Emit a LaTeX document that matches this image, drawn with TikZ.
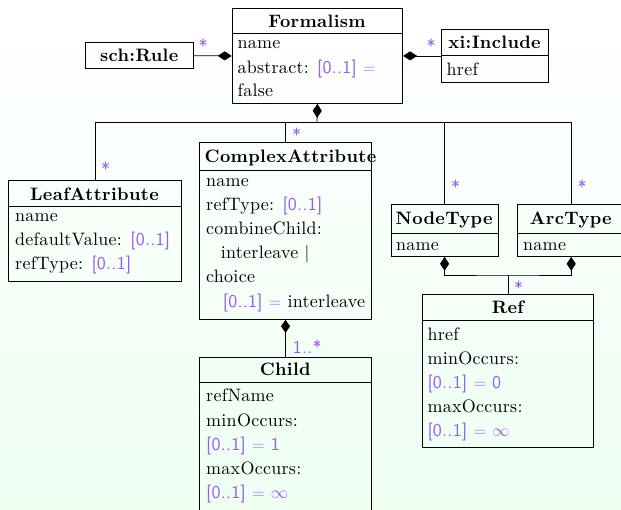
\documentclass[tikz,border=0pt]{standalone}
\usepackage{fontspec}
\setmainfont{lmroman10-regular}[Extension=.otf, LetterSpace=1.5, BoldFont=lmroman10-bold, BoldFeatures={LetterSpace=2}, ItalicFont=lmroman10-italic]
\setsansfont{lmsans10-regular}[Extension=.otf, LetterSpace=1.5, BoldFont=lmsans10-bold]
\usetikzlibrary{arrows.meta}
\definecolor{umlpurple}{RGB}{150,95,240}
\definecolor{bgmint}{RGB}{238,255,242}
\newcommand\pu[1]{\textcolor{umlpurple}{\sffamily #1}}
\tikzset{
  cls/.style={draw=black, line width=0.8pt, rectangle, inner sep=0pt, anchor=north west},
  sep/.style={draw=black, line width=0.8pt},
  conn/.style={draw=black, line width=0.8pt},
  comp/.style={conn, {Diamond[length=14pt,width=9pt]}-},
  title/.style={anchor=base, inner sep=0pt, font=\fontsize{18}{24}\selectfont\bfseries},
  row/.style={anchor=base west, inner sep=0pt, font=\fontsize{18}{24}\selectfont},
  mult/.style={anchor=base west, inner sep=0pt, text=umlpurple, font=\fontsize{18}{24}\selectfont\sffamily},
}
\begin{document}
\begin{tikzpicture}[x=1pt, y=-1pt]
\shade[top color=white, bottom color=bgmint] (0,0) rectangle (621,509);
\useasboundingbox (0,0) rectangle (621,509);

% Boxes
\node[cls, minimum width=170.6, minimum height=95] (formalism) at (231.7,8) {};
\node[cls, minimum width=108.3, minimum height=26] (schrule) at (85,42.3) {};
\node[cls, minimum width=107.6, minimum height=52.4] (xiinc) at (440.7,29.3) {};
\node[cls, minimum width=172.4, minimum height=100.7] (leaf) at (8.3,180) {};
\node[cls, minimum width=171.7, minimum height=176.7] (complex) at (199.3,142.3) {};
\node[cls, minimum width=107, minimum height=51.7] (nodetype) at (390.7,204.3) {};
\node[cls, minimum width=107, minimum height=51.7] (arctype) at (517.3,204.3) {};
\node[cls, minimum width=171, minimum height=153] (ref) at (422.3,294.3) {};
\node[cls, minimum width=171.7, minimum height=170] (child) at (199.3,356.7) {};

% Separators
\draw[sep] ([yshift=-25pt]formalism.north west) -- ([yshift=-25pt]formalism.north east);
\draw[sep] ([yshift=-26pt]xiinc.north west) -- ([yshift=-26pt]xiinc.north east);
\draw[sep] ([yshift=-26.5pt]leaf.north west) -- ([yshift=-26.5pt]leaf.north east);
\draw[sep] ([yshift=-28.5pt]complex.north west) -- ([yshift=-28.5pt]complex.north east);
\draw[sep] ([yshift=-29.5pt]nodetype.north west) -- ([yshift=-29.5pt]nodetype.north east);
\draw[sep] ([yshift=-29.5pt]arctype.north west) -- ([yshift=-29.5pt]arctype.north east);
\draw[sep] ([yshift=-26.5pt]ref.north west) -- ([yshift=-26.5pt]ref.north east);
\draw[sep] ([yshift=-26pt]child.north west) -- ([yshift=-26pt]child.north east);

% Titles
\node[title] (tformalism) at (317,27) {Formalism};
\node[title] (tschrule) at (139.2,61.7) {sch:Rule};
\node[title] (txiinc) at (494.5,48.3) {xi:Include};
\node[title] (tleaf) at (94.5,200) {LeafAttribute};
\node[title] (tcomplex) at (290.5,162.7) {ComplexAttribute};
\node[title] (tnodetype) at (444.2,224) {NodeType};
\node[title] (tarctype) at (570.8,224) {ArcType};
\node[title] (tref) at (507.8,313.3) {Ref};
\node[title] (tchild) at (285.2,375) {Child};

% Attributes
\node[row] (f1) at (237.3,48.5) {name};
\node[row] (f2) at (237.3,73) {abstract: \pu{[0..1] $=$}};
\node[row] (f3) at (237.3,96.5) {false};
\node[row] (x1) at (446.5,75) {href};
\node[row] (l1) at (15,221) {name};
\node[row] (l2) at (15,245) {defaultValue: \pu{[0..1]}};
\node[row] (l3) at (15,269) {refType: \pu{[0..1]}};
\node[row] (c1) at (206,186) {name};
\node[row] (c2) at (206,210.5) {refType: \pu{[0..1]}};
\node[row] (c3) at (206,234.5) {combineChild:};
\node[row] (c4) at (220.7,258.5) {interleave $|$};
\node[row] (c5) at (206,282.5) {choice};
\node[row] (c6) at (222.7,307) {\pu{[0..1] $=$} interleave};
\node[row] (n1) at (396,250) {name};
\node[row] (a1) at (523,250) {name};
\node[row] (r1) at (427.3,340) {href};
\node[row] (r2) at (427.3,364) {minOccurs:};
\node[row] (r3) at (427.3,388) {\pu{[0..1] $=$ 0}};
\node[row] (r4) at (427.3,412) {maxOccurs:};
\node[row] (r5) at (427.3,436) {\pu{[0..1] $=$ $\infty$}};
\node[row] (h1) at (206,401.7) {refName};
\node[row] (h2) at (206,426) {minOccurs:};
\node[row] (h3) at (206,450) {\pu{[0..1] $=$ 1}};
\node[row] (h4) at (206,474) {maxOccurs:};
\node[row] (h5) at (206,498.3) {\pu{[0..1] $=$ $\infty$}};

% Connectors
\coordinate (fbus) at (317,122.7);
\coordinate (rbus) at (507.8,275);
\draw[comp] (formalism.west) -- (schrule.east);
\draw[comp] (formalism.east) -- (xiinc.west);
\draw[comp] (formalism.south) -- (fbus);
\draw[conn] (leaf.north) |- (fbus) -| (arctype.north);
\draw[conn] (complex.north) -- (complex.north |- fbus);
\draw[conn] (nodetype.north) -- (nodetype.north |- fbus);
\draw[conn, {Diamond[length=14pt,width=9pt]}-{Diamond[length=14pt,width=9pt]}] (nodetype.south) |- (rbus) -| (arctype.south);
\draw[conn] (ref.north) -- (ref.north |- rbus);
\draw[conn, {Diamond[length=13pt,width=9pt]}-] (complex.south) -- (child.north);

% Multiplicities
\node[mult] (m1) at (198.5,52) {*};
\node[mult] (m2) at (426.5,52) {*};
\node[mult] (m3) at (100.8,175) {*};
\node[mult] (m4) at (291.8,141.7) {*};
\node[mult] (m5) at (450.8,193) {*};
\node[mult] (m6) at (577.5,193) {*};
\node[mult] (m7) at (514,294) {*};
\node[mult] (m8) at (292.7,353.3) {1..*};
\end{tikzpicture}
\end{document}
